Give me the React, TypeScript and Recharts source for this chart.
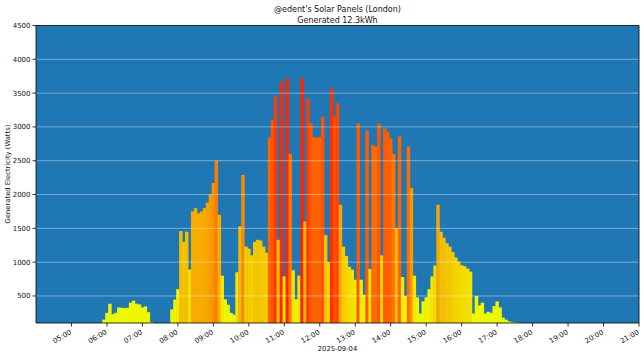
import React from "react";
import { BarChart, Bar, XAxis, YAxis, CartesianGrid, ReferenceLine } from "recharts";

// generated watts, one reading every 5 minutes, in runs starting at the given time
const SLOT_MINUTES = 5;

const dawnStart = "05:55";
const dawnWatts = [150, 250, 385, 230, 250, 330, 325, 320, 325, 400, 430, 385, 375, 330, 345, 260, 110, 100, 100, 100, 100, 100, 100];

const morningStart = "07:50";
const morningWatts = [
  300, 446, 600, 1460, 1300, 1450, 890, 1750, 1800, 1720, 1750, 1800, 1880, 2000, 2170, 2500, 1700, 800,
  450, 370, 250, 224, 850, 1530, 2290, 1230, 1200, 1100, 1300, 1330, 1320, 1230, 1140,
];

const noonStart = "10:35";
const noonWatts = [
  2850, 3100, 3450, 1330, 3670, 790, 3720, 2600, 880, 450, 800, 3720, 1600, 3420, 3050, 2850, 2840, 2850,
  3150, 1400, 1000, 3570, 3150, 3350, 1850, 1230, 1090, 930, 890, 740, 3050, 740, 520, 2950, 900, 2735,
  2710, 3050, 1100, 2980, 2930, 2830, 2600, 1500, 2860, 780, 500, 2710, 2100, 800, 480, 240,
];

const afternoonStart = "14:55";
const afternoonWatts = [
  420, 480, 600, 790, 950, 1850, 1450, 1360, 1280, 1230, 1150, 1070, 1010, 955, 940, 905, 860, 240, 500,
  360, 400, 240, 265, 250, 350, 420, 330, 180, 150, 125, 115, 108, 105,
];

const hourTicks = [
  "05:00", "06:00", "07:00", "08:00", "09:00", "10:00", "11:00", "12:00", "13:00",
  "14:00", "15:00", "16:00", "17:00", "18:00", "19:00", "20:00", "21:00",
];
const wattTicks = [500, 1000, 1500, 2000, 2500, 3000, 3500, 4000, 4500];

const toMinutes = (hhmm: string) => {
  const [h, m] = hhmm.split(":").map(Number);
  return h * 60 + m;
};
const fmtTime = (mins: number) =>
  `${String(Math.floor(mins / 60)).padStart(2, "0")}:${String(mins % 60).padStart(2, "0")}`;

const runs: [string, number[]][] = [
  [dawnStart, dawnWatts],
  [morningStart, morningWatts],
  [noonStart, noonWatts],
  [afternoonStart, afternoonWatts],
];
const data = runs.flatMap(([start, watts]) =>
  watts.map((w, i) => ({ t: toMinutes(start) + i * SLOT_MINUTES, w }))
);

// yellow for low output, through orange, to red at the peaks
const COLOR_STOPS: [number, number[]][] = [
  [100, [236, 255, 0]],
  [700, [242, 238, 0]],
  [1000, [245, 214, 0]],
  [1400, [245, 192, 0]],
  [1900, [246, 163, 0]],
  [2400, [250, 132, 0]],
  [2900, [255, 95, 0]],
  [3300, [255, 72, 0]],
  [3700, [255, 35, 0]],
];

function wattsColor(w: number) {
  let i = 1;
  while (i < COLOR_STOPS.length - 1 && w > COLOR_STOPS[i][0]) i++;
  const [w0, c0] = COLOR_STOPS[i - 1];
  const [w1, c1] = COLOR_STOPS[i];
  const f = Math.max(0, Math.min(1, (w - w0) / (w1 - w0)));
  const c = c0.map((v, k) => Math.round(v + (c1[k] - v) * f));
  return `rgb(${c[0]},${c[1]},${c[2]})`;
}

const WIDTH = 644;
const HEIGHT = 358;
const MARGIN = { top: 25.5, right: 5, bottom: 5, left: 6 };
const Y_AXIS_W = 30;
const X_AXIS_H = 30;
const X_MIN = toMinutes("04:00");
const X_MAX = toMinutes("21:00");
const plotW = WIDTH - MARGIN.left - MARGIN.right - Y_AXIS_W;
const slotPx = (plotW * SLOT_MINUTES) / (X_MAX - X_MIN);

const FONT = "'DejaVu Sans', sans-serif";

function HourTick({ x, y, payload }: any) {
  const ty = y + 5;
  return (
    <text
      x={x + 0.5}
      y={ty}
      transform={`rotate(-30 ${x + 0.5} ${ty})`}
      textAnchor="end"
      fontSize={7}
      fill="#111"
      fontFamily={FONT}
    >
      {fmtTime(payload.value)}
    </text>
  );
}

// each reading fills its whole 5-minute slot, centred on the bar recharts placed
function SlotBar({ x, y, width, height, payload }: any) {
  if (!height || height <= 0) return null;
  const cx = x + width / 2;
  const color = wattsColor(payload.w);
  return <rect x={cx - slotPx / 2 - 0.25} y={y} width={slotPx + 0.5} height={height} fill={color} />;
}

export default function App() {
  return (
    <div style={{ position: "fixed", left: 0, top: 0, width: WIDTH, height: HEIGHT, background: "#fff", fontFamily: FONT }}>
      <div style={{ position: "absolute", left: 36, width: plotW, top: 3.5, textAlign: "center", fontSize: 8, lineHeight: "11px", color: "#111" }}>
        <div>@edent's Solar Panels (London)</div>
        <div>Generated 12.3kWh</div>
      </div>
      <div
        style={{
          position: "absolute",
          left: 8,
          top: 174,
          transform: "translate(-50%, -50%) rotate(-90deg)",
          whiteSpace: "nowrap",
          fontSize: 6.8,
          color: "#111",
        }}
      >
        Generated Electricity (Watts)
      </div>
      <div style={{ position: "absolute", left: 36, width: plotW, top: 344, textAlign: "center", fontSize: 6.8, lineHeight: "10px", color: "#111" }}>
        2025-09-04
      </div>
      <BarChart width={WIDTH} height={HEIGHT} data={data} margin={MARGIN} barCategoryGap={0} barGap={0}>
        <CartesianGrid fill="#1f77b4" horizontal={false} vertical={false} />
        <XAxis
          dataKey="t"
          type="number"
          domain={[X_MIN, X_MAX]}
          ticks={hourTicks.map(toMinutes)}
          interval={0}
          allowDataOverflow
          height={X_AXIS_H}
          tickSize={3.5}
          tick={<HourTick />}
          axisLine={{ stroke: "#000", strokeWidth: 0.8 }}
          tickLine={{ stroke: "#000", strokeWidth: 0.8 }}
        />
        <YAxis
          type="number"
          domain={[100, 4500]}
          ticks={wattTicks}
          interval={0}
          allowDataOverflow
          width={Y_AXIS_W}
          tickSize={3.5}
          tick={{ fontSize: 7, fill: "#111", fontFamily: FONT }}
          axisLine={{ stroke: "#000", strokeWidth: 0.8 }}
          tickLine={{ stroke: "#000", strokeWidth: 0.8 }}
        />
        <Bar dataKey="w" isAnimationActive={false} shape={<SlotBar />} />
        {wattTicks.slice(0, -1).map((v) => (
          <ReferenceLine key={v} y={v} stroke="#fff" strokeOpacity={0.5} strokeWidth={0.8} />
        ))}
        <ReferenceLine y={4500} stroke="#000" strokeWidth={0.8} />
        <ReferenceLine x={X_MAX} stroke="#000" strokeWidth={0.8} />
      </BarChart>
    </div>
  );
}
